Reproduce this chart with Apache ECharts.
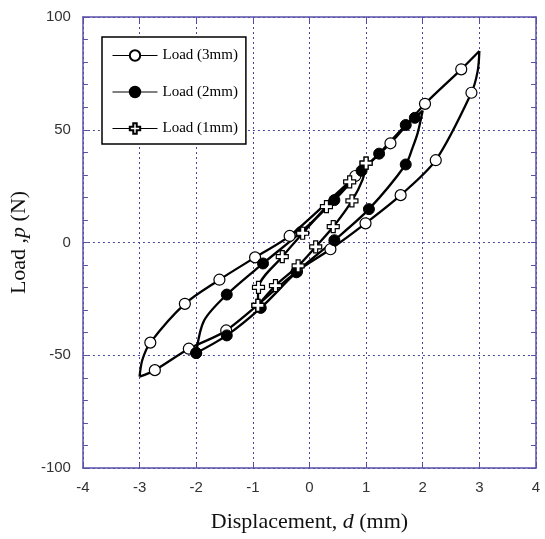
<!DOCTYPE html>
<html>
<head>
<meta charset="utf-8">
<script src="https://cdn.jsdelivr.net/npm/echarts@6/dist/echarts.min.js"></script>
<style>
html, body { margin: 0; background: #fff; }
#chart { width: 545px; height: 539px; }
</style>
</head>
<body>
<div id="chart"></div>
<script>
// Load (3mm) loop: unloading branch (peak -> valley) then reloading branch (valley -> peak)
var unload3 = [[3.0, 84.9], [2.97, 76.0], [2.86, 66.4], [2.23, 36.5], [1.61, 21.0], [0.99, 8.5], [0.37, -3.0],
               [-0.22, -12.8], [-1.47, -39.0], [-2.13, -47.1], [-2.73, -56.6], [-3.0, -59.5]];
var reload3 = [[-3.0, -59.5], [-2.95, -52.0], [-2.81, -44.4], [-2.20, -27.2], [-1.59, -16.5], [-0.96, -6.6],
               [-0.35, 2.9], [0.81, 29.5], [1.43, 44.0], [2.04, 61.5], [2.68, 76.8], [3.0, 84.9]];
// points of the curve that carry no marker (tips and bends)
var bends3 = [[3.0, 84.9], [2.97, 76.0], [-3.0, -59.5], [-2.95, -52.0]];

// Load (2mm)
var unload2 = [[2.0, 58.5], [1.91, 48.5], [1.82, 42.0], [1.70, 34.6], [1.05, 14.8], [0.44, 1.0], [-0.23, -13.2],
               [-0.86, -29.0], [-1.46, -41.2], [-2.0, -49.0]];
var reload2 = [[-2.0, -49.0], [-1.86, -34.6], [-1.46, -23.1], [-0.82, -9.3], [-0.15, 4.6], [0.44, 18.8],
               [0.92, 31.8], [1.23, 39.4], [1.70, 52.1], [1.86, 55.3], [2.0, 58.5]];
var bends2 = [[2.0, 58.5], [1.91, 48.5], [1.82, 42.0], [-1.86, -34.6]];

// Load (1mm)
var unload1 = [[1.0, 35.2], [0.94, 28.0], [0.75, 18.5], [0.42, 7.0], [0.11, -1.9], [-0.20, -10.4],
               [-0.60, -19.1], [-0.91, -27.9]];
var reload1 = [[-0.91, -27.9], [-0.90, -19.9], [-0.48, -6.3], [-0.12, 4.1], [0.30, 15.9], [0.71, 26.9], [1.0, 35.2]];
var bends1 = [[0.94, 28.0]];

var seriesNames = ['Load (3mm)', 'Load (2mm)', 'Load (1mm)'];

var axisColor = '#5a50a8';
var gridColor = '#4848a0';
var crossPath = 'path://M4,0H8V4H12V8H8V12H4V8H0V4H4Z';

// both branches in one series, split by an empty point so each tip stays sharp
function loopData(unload, reload, bends) {
    function item(p) {
        var bent = bends.some(function (b) { return b[0] === p[0] && b[1] === p[1]; });
        return bent ? { value: p, symbol: 'none' } : { value: p };
    }
    return unload.map(item).concat([['-', '-']], reload.map(item));
}

var serif = 'Liberation Serif';
var sans = 'Liberation Sans';

var mychart = echarts.init(document.getElementById('chart'));
var option = {
    animation: false,
    backgroundColor: '#fff',
    grid: { left: 80, right: 9, top: 17, bottom: 71 },
    legend: {
        orient: 'vertical',
        left: 102,
        top: 37,
        itemWidth: 45,
        itemHeight: 13,
        itemGap: 21.5,
        padding: [11, 8, 8, 10],
        borderColor: '#000',
        borderWidth: 1.5,
        backgroundColor: '#fff',
        lineStyle: { width: 1 },
        textStyle: { fontFamily: serif, fontSize: 15, color: '#000' },
        data: seriesNames
    },
    xAxis: [{
        type: 'value',
        min: -4,
        max: 4,
        interval: 1,
        position: 'bottom',
        axisLine: { onZero: false, lineStyle: { color: axisColor, width: 1.5 } },
        axisTick: { inside: true, length: 5, lineStyle: { color: axisColor } },
        axisLabel: { margin: 12, fontFamily: sans, fontSize: 15, color: '#333' },
        splitLine: { show: true, lineStyle: { color: gridColor, type: [2, 3], width: 1 } },
        name: '{t|Displacement, }{i|d}{t| (mm)}',
        nameLocation: 'middle',
        nameGap: 43,
        nameTextStyle: {
            rich: {
                t: { fontFamily: serif, fontSize: 22, color: '#111' },
                i: { fontFamily: serif, fontSize: 22, fontStyle: 'italic', color: '#111' }
            }
        }
    }, {
        type: 'value',
        min: -4,
        max: 4,
        interval: 1,
        position: 'top',
        axisLine: { onZero: false, lineStyle: { color: axisColor, width: 1.5 } },
        axisTick: { inside: true, length: 5, lineStyle: { color: axisColor } },
        axisLabel: { show: false },
        splitLine: { show: false }
    }],
    yAxis: [{
        type: 'value',
        min: -100,
        max: 100,
        interval: 50,
        position: 'left',
        axisLine: { onZero: false, lineStyle: { color: axisColor, width: 1.5 } },
        axisTick: { inside: true, length: 5, lineStyle: { color: axisColor } },
        minorTick: { show: true, splitNumber: 5, length: 5, lineStyle: { color: axisColor } },
        axisLabel: { margin: 12, fontFamily: sans, fontSize: 15, color: '#333' },
        splitLine: { show: true, lineStyle: { color: gridColor, type: [2, 3], width: 1 } },
        name: '{t|Load ,}{i|p}{t| (N)}',
        nameLocation: 'middle',
        nameGap: 46,
        nameTextStyle: {
            rich: {
                t: { fontFamily: serif, fontSize: 22, color: '#111' },
                i: { fontFamily: serif, fontSize: 22, fontStyle: 'italic', color: '#111' }
            }
        }
    }, {
        type: 'value',
        min: -100,
        max: 100,
        interval: 50,
        position: 'right',
        axisLine: { onZero: false, lineStyle: { color: axisColor, width: 1.5 } },
        axisTick: { inside: true, length: 5, lineStyle: { color: axisColor } },
        minorTick: { show: true, splitNumber: 5, length: 5, lineStyle: { color: axisColor } },
        axisLabel: { show: false },
        splitLine: { show: false }
    }],
    series: [{
        name: seriesNames[0],
        type: 'line',
        smooth: 0.3,
        symbol: 'circle',
        symbolSize: 11,
        showAllSymbol: true,
        lineStyle: { color: '#000', width: 2.3 },
        itemStyle: { color: '#fff', borderColor: '#000', borderWidth: 1.2 },
        data: loopData(unload3, reload3, bends3)
    }, {
        name: seriesNames[1],
        type: 'line',
        smooth: 0.3,
        symbol: 'circle',
        symbolSize: 11,
        showAllSymbol: true,
        lineStyle: { color: '#000', width: 2.3 },
        itemStyle: { color: '#000', borderColor: '#000', borderWidth: 1 },
        data: loopData(unload2, reload2, bends2)
    }, {
        name: seriesNames[2],
        type: 'line',
        smooth: 0.3,
        symbol: crossPath,
        symbolSize: 12,
        showAllSymbol: true,
        lineStyle: { color: '#000', width: 2.3 },
        itemStyle: { color: '#fff', borderColor: '#000', borderWidth: 1.2 },
        data: loopData(unload1, reload1, bends1)
    }]
};
mychart.setOption(option);
</script>
</body>
</html>
